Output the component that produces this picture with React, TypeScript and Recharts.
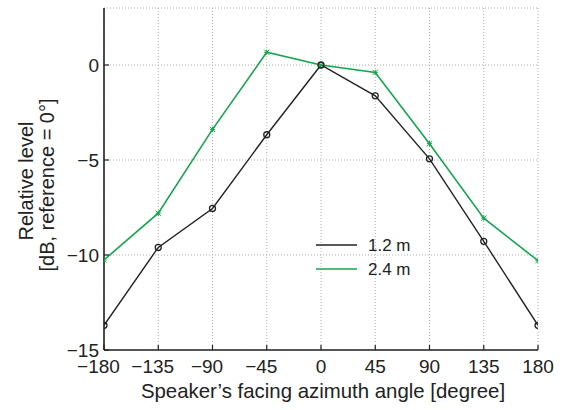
import React from "react";
import { LineChart, Line, XAxis, YAxis, CartesianGrid, Legend, Label } from "recharts";

const angles = [-180, -135, -90, -45, 0, 45, 90, 135, 180];
const level12 = [-13.7, -9.6, -7.55, -3.67, 0, -1.62, -4.94, -9.28, -13.7];
const level24 = [-10.26, -7.8, -3.39, 0.67, 0, -0.39, -4.14, -8.06, -10.3];
const xTicks = [-180, -135, -90, -45, 0, 45, 90, 135, 180];
const yTicks = [-15, -10, -5, 0];
const seriesNames = ["1.2 m", "2.4 m"];

const data = angles.map((a, i) => ({ angle: a, l12: level12[i], l24: level24[i] }));

const BLACK = "#222222";
const GREEN = "#14a64c";
const FONT = "'Liberation Sans', Arial, Helvetica, sans-serif";

const fmt = (v: number) => (v < 0 ? `\u2212${-v}` : `${v}`);

const CircleDot = (p: any) => {
  if (p.cx == null || p.cy == null) return <g key={p.key} />;
  return <circle key={p.key} cx={p.cx} cy={p.cy} r={3} fill="none" stroke={BLACK} strokeWidth={1.3} />;
};

const StarDot = (p: any) => {
  if (p.cx == null || p.cy == null) return <g key={p.key} />;
  const { cx, cy } = p;
  const s = 2.6;
  return (
    <g key={p.key} stroke={GREEN} strokeWidth={1}>
      <line x1={cx - s} y1={cy - s} x2={cx + s} y2={cy + s} />
      <line x1={cx - s} y1={cy + s} x2={cx + s} y2={cy - s} />
      <line x1={cx - s} y1={cy} x2={cx + s} y2={cy} />
      <line x1={cx} y1={cy - s} x2={cx} y2={cy + s} />
    </g>
  );
};

const XTick = (p: any) => {
  const v = p.payload?.value ?? 0;
  return (
    <text
      x={p.x}
      y={p.y}
      dy="0.71em"
      dx={v < 0 ? -5.5 : 0}
      textAnchor="middle"
      fontFamily={FONT}
      fontSize={19}
      fill="#222"
    >
      {fmt(v)}
    </text>
  );
};

const LegendBox = () => (
  <svg width={130} height={50} style={{ display: "block" }}>
    <line x1={2} y1={12} x2={43} y2={12} stroke={BLACK} strokeWidth={1.3} />
    <text x={54} y={12} dominantBaseline="central" fontFamily={FONT} fontSize={17} fill="#222">
      {seriesNames[0]}
    </text>
    <line x1={2} y1={36} x2={43} y2={36} stroke={GREEN} strokeWidth={1.6} />
    <text x={54} y={36} dominantBaseline="central" fontFamily={FONT} fontSize={17} fill="#222">
      {seriesNames[1]}
    </text>
  </svg>
);

const YLabel = (props: any) => {
  const vb = props.viewBox || { x: 0, y: 0, width: 0, height: 0 };
  const cy = vb.y + vb.height / 2;
  const x1 = vb.x + 33;
  const x2 = vb.x + 54;
  return (
    <g fontFamily={FONT} fontSize={20} fill="#222">
      <text x={x1} y={cy + 2} textAnchor="middle" transform={`rotate(-90, ${x1}, ${cy + 2})`}>
        Relative level
      </text>
      <text x={x2} y={cy + 6} textAnchor="middle" transform={`rotate(-90, ${x2}, ${cy + 6})`}>
        [dB, reference = 0°]
      </text>
    </g>
  );
};

const XLabel = (props: any) => {
  const vb = props.viewBox || { x: 0, y: 0, width: 0, height: 0 };
  return (
    <text x={vb.x + vb.width / 2 + 2} y={vb.y + 48} textAnchor="middle" fontFamily={FONT} fontSize={20.4} fill="#222">
      Speaker’s facing azimuth angle [degree]
    </text>
  );
};

const tickStyle = { fontFamily: FONT, fontSize: 19, fill: "#222" };

export default function App() {
  return (
    <div style={{ position: "absolute", left: 0, top: 0, width: 564, height: 410, background: "#fff" }}>
      <LineChart width={564} height={410} data={data} margin={{ top: 8, right: 26, bottom: 0, left: 0 }}>
        <CartesianGrid stroke="#9a9a9a" strokeDasharray="1 2" strokeWidth={0.8} />
        <XAxis
          dataKey="angle"
          type="number"
          domain={[-180, 180]}
          ticks={xTicks}
          allowDataOverflow
          height={60}
          tick={XTick}
          tickSize={-5}
          tickMargin={15}
          axisLine={{ stroke: "#222", strokeWidth: 1.6 }}
          tickLine={{ stroke: "#222", strokeWidth: 1.2 }}
          interval={0}
        >
          <Label content={XLabel} />
        </XAxis>
        <XAxis
          xAxisId="top"
          orientation="top"
          type="number"
          dataKey="angle"
          domain={[-180, 180]}
          ticks={xTicks}
          allowDataOverflow
          height={0}
          tick={() => <g />}
          tickSize={-5}
          axisLine={{ stroke: "#222", strokeWidth: 1.6 }}
          tickLine={{ stroke: "#222", strokeWidth: 1.2 }}
          interval={0}
        />
        <YAxis
          type="number"
          domain={[-15, 3]}
          ticks={yTicks}
          allowDataOverflow
          width={104}
          tickFormatter={fmt}
          tick={tickStyle}
          tickSize={-5}
          tickMargin={10}
          axisLine={{ stroke: "#222", strokeWidth: 1.6 }}
          tickLine={{ stroke: "#222", strokeWidth: 1.2 }}
          interval={0}
        >
          <Label content={YLabel} />
        </YAxis>
        <YAxis
          yAxisId="right"
          orientation="right"
          type="number"
          domain={[-15, 3]}
          ticks={yTicks}
          allowDataOverflow
          width={0}
          tick={() => <g />}
          tickSize={-5}
          axisLine={{ stroke: "#222", strokeWidth: 1.6 }}
          tickLine={{ stroke: "#222", strokeWidth: 1.2 }}
          interval={0}
        />
        <Legend
          layout="horizontal"
          verticalAlign="middle"
          align="center"
          content={LegendBox}
          wrapperStyle={{ left: 314, top: 233, width: 130, height: 50 }}
        />
        <Line
          dataKey="l24"
          name={seriesNames[1]}
          stroke={GREEN}
          strokeWidth={1.6}
          dot={StarDot}
          activeDot={false}
          isAnimationActive={false}
        />
        <Line
          dataKey="l12"
          name={seriesNames[0]}
          stroke={BLACK}
          strokeWidth={1.4}
          dot={CircleDot}
          activeDot={false}
          isAnimationActive={false}
        />
      </LineChart>
    </div>
  );
}
